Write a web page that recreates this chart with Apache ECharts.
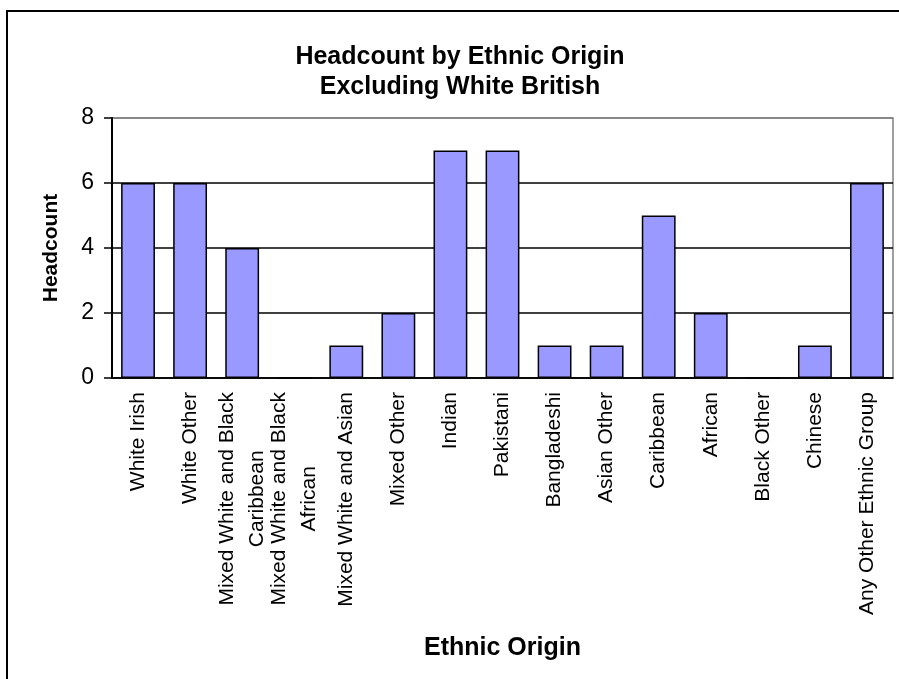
<!DOCTYPE html>
<html>
<head>
<meta charset="utf-8">
<script src="https://cdn.jsdelivr.net/npm/echarts@6/dist/echarts.min.js"></script>
<style>
html, body { margin: 0; padding: 0; background: #fff; }
#chart { width: 899px; height: 679px; }
</style>
</head>
<body>
<div id="chart"></div>
<script>
// categories and headcounts
var categories = ['White Irish', 'White Other', 'Mixed White and Black\nCaribbean',
	'Mixed White and Black\nAfrican', 'Mixed White and Asian', 'Mixed Other', 'Indian',
	'Pakistani', 'Bangladeshi', 'Asian Other', 'Caribbean', 'African', 'Black Other',
	'Chinese', 'Any Other Ethnic Group'];
var headcount = [6, 6, 4, 0, 1, 2, 7, 7, 1, 1, 5, 2, 0, 1, 6];
var titleLines = ['Headcount by Ethnic Origin', 'Excluding White British'];

var font = "'Liberation Sans', Arial, sans-serif";

var chart = echarts.init(document.getElementById('chart'));

chart.setOption({
	animation: false,
	textStyle: { fontFamily: font },
	title: {
		text: titleLines.join('\n'),
		left: 455,
		top: 37,
		textAlign: 'center',
		textStyle: { fontFamily: font, fontSize: 25, fontWeight: 'bold', color: '#000', lineHeight: 30 }
	},
	graphic: [{
		type: 'rect',
		shape: { x: 7, y: 11, width: 1000, height: 1000 },
		style: { fill: 'none', stroke: '#000', lineWidth: 2 },
		silent: true
	}],
	grid: {
		left: 112, right: 6, top: 118, bottom: 301,
		show: true, borderColor: '#808080', borderWidth: 1.5
	},
	xAxis: {
		type: 'category',
		data: categories,
		name: 'Ethnic Origin',
		nameLocation: 'middle',
		nameGap: 258,
		nameTextStyle: { fontFamily: font, fontSize: 25, fontWeight: 'bold', color: '#000' },
		axisLine: { lineStyle: { color: '#000', width: 1.5 } },
		axisTick: { length: 7, lineStyle: { color: '#000', width: 1.5 } },
		axisLabel: {
			interval: 0,
			rotate: 90,
			margin: 14,
			color: '#000',
			formatter: function (v) {
				return v.split('\n').map(function (s) { return '{c|' + s + '}'; }).join('\n');
			},
			rich: {
				c: { fontFamily: font, fontSize: 21, lineHeight: 30, align: 'center', color: '#000' }
			}
		}
	},
	yAxis: {
		type: 'value',
		min: 0, max: 8, interval: 2,
		name: 'Headcount',
		nameLocation: 'middle',
		nameGap: 50,
		nameTextStyle: { fontFamily: font, fontSize: 21, fontWeight: 'bold', color: '#000' },
		axisLine: { show: true, lineStyle: { color: '#000', width: 2 } },
		axisTick: { show: true, length: 8, lineStyle: { color: '#000', width: 1.5 } },
		axisLabel: { margin: 18, fontFamily: font, fontSize: 23, color: '#000' },
		splitLine: { lineStyle: { color: ['#000', '#000', '#000', '#000', '#808080'], width: 1.5 } }
	},
	series: [{
		type: 'bar',
		data: headcount,
		barCategoryGap: '35%',
		itemStyle: { color: '#9999FF', borderColor: '#000', borderWidth: 1.5 }
	}]
});
</script>
</body>
</html>
